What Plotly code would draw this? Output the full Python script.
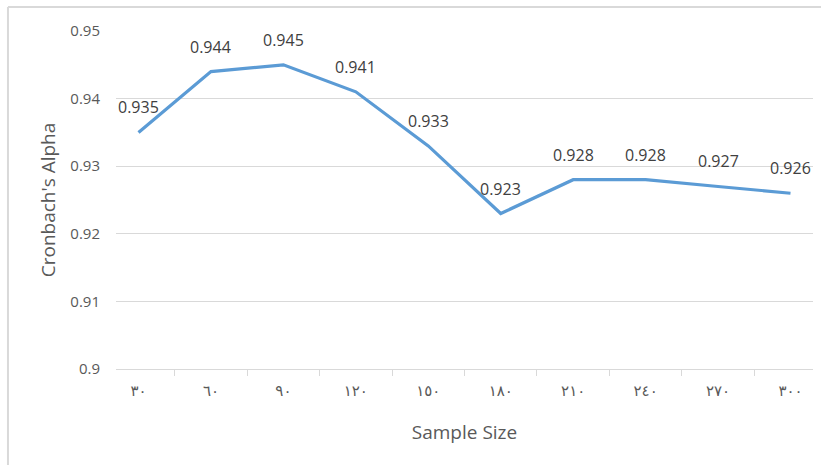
import plotly.graph_objects as go

# Cronbach's alpha by sample size
sample_sizes = ["٣٠", "٦٠", "٩٠", "١٢٠", "١٥٠", "١٨٠", "٢١٠", "٢٤٠", "٢٧٠", "٣٠٠"]
alpha_values = [0.935, 0.944, 0.945, 0.941, 0.933, 0.923, 0.928, 0.928, 0.927, 0.926]
y_ticks = [0.9, 0.91, 0.92, 0.93, 0.94, 0.95]

FONT = "'Open Sans', 'DejaVu Sans', sans-serif"
GRID = "#d9d9d9"
TEXT = "#595959"

fig = go.Figure()
fig.add_trace(go.Scatter(
    x=sample_sizes,
    y=alpha_values,
    mode="lines",
    line=dict(color="#5b9bd5", width=3.2),
    hoverinfo="x+y",
    showlegend=False,
))

# value labels above each point
for cat, val in zip(sample_sizes, alpha_values):
    fig.add_annotation(
        x=cat, y=val, text=f"{val:.3f}", showarrow=False,
        yshift=25, font=dict(family=FONT, size=16, color="#404040"),
    )

# chart-area border (left and top edges)
fig.add_shape(type="line", xref="paper", yref="paper",
              x0=-0.155, x1=1.02, y0=1.071, y1=1.071,
              line=dict(color="#d9d9d9", width=2))
fig.add_shape(type="line", xref="paper", yref="paper",
              x0=-0.155, x1=-0.155, y0=1.071, y1=-0.3,
              line=dict(color="#d9d9d9", width=2))

fig.update_layout(
    width=821, height=465,
    margin=dict(l=116, r=8, t=31, b=96),
    paper_bgcolor="white", plot_bgcolor="white",
    font=dict(family=FONT, color=TEXT),
    xaxis=dict(
        type="category",
        showgrid=False,
        showline=True, linecolor=GRID, linewidth=1,
        ticks="outside", tickson="boundaries", ticklen=6, tickcolor=GRID,
        ticklabelstandoff=8,
        tickfont=dict(size=15, color=TEXT),
        title=dict(text="Sample Size", font=dict(size=19, color=TEXT), standoff=26),
    ),
    yaxis=dict(
        range=[0.9, 0.95],
        tickvals=y_ticks,
        showgrid=True, gridcolor=GRID, gridwidth=1,
        zeroline=False, showline=False,
        ticks="outside", ticklen=0,
        ticklabelstandoff=12,
        tickfont=dict(size=15, color=TEXT),
        title=dict(text="Cronbach's Alpha", font=dict(size=19, color=TEXT), standoff=9),
    ),
)

fig.write_html("out.html")
